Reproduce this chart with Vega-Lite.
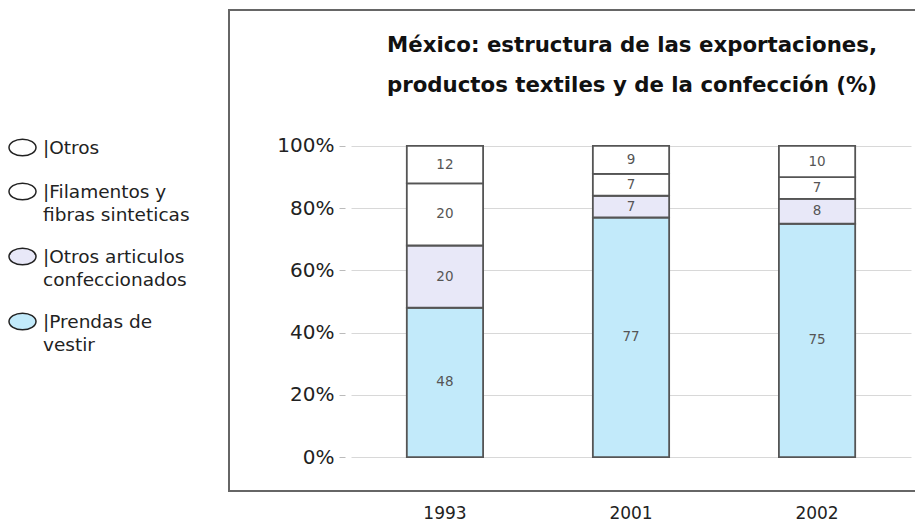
{
  "$schema": "https://vega.github.io/schema/vega-lite/v6.json",
  "autosize": "none",
  "width": 690,
  "height": 481,
  "padding": {"left": 229, "top": 10, "right": 0, "bottom": 33},
  "background": "white",
  "config": {
    "font": "DejaVu Sans",
    "view": {"stroke": "#666", "strokeWidth": 2}
  },
  "title": {
    "text": ["México: estructura de las exportaciones,", "productos textiles y de la confección (%)"],
    "fontSize": 21.3,
    "fontWeight": "bold",
    "color": "#111",
    "lineHeight": 40,
    "anchor": "middle",
    "frame": "group",
    "dx": 58,
    "offset": -86
  },
  "data": {
    "values": [
      {"anio": "1993", "categoria": "Prendas de vestir", "valor": 48},
      {"anio": "1993", "categoria": "Otros articulos confeccionados", "valor": 20},
      {"anio": "1993", "categoria": "Filamentos y fibras sinteticas", "valor": 20},
      {"anio": "1993", "categoria": "Otros", "valor": 12},
      {"anio": "2001", "categoria": "Prendas de vestir", "valor": 77},
      {"anio": "2001", "categoria": "Otros articulos confeccionados", "valor": 7},
      {"anio": "2001", "categoria": "Filamentos y fibras sinteticas", "valor": 7},
      {"anio": "2001", "categoria": "Otros", "valor": 9},
      {"anio": "2002", "categoria": "Prendas de vestir", "valor": 75},
      {"anio": "2002", "categoria": "Otros articulos confeccionados", "valor": 8},
      {"anio": "2002", "categoria": "Filamentos y fibras sinteticas", "valor": 7},
      {"anio": "2002", "categoria": "Otros", "valor": 10}
    ]
  },
  "transform": [
    {"calculate": "indexof(['Prendas de vestir', 'Otros articulos confeccionados', 'Filamentos y fibras sinteticas', 'Otros'], datum.categoria)", "as": "orden"}
  ],
  "encoding": {
    "x": {
      "field": "anio",
      "type": "nominal",
      "scale": {"range": [122, 682], "paddingInner": 0.59, "paddingOuter": 0.3},
      "axis": {
        "title": null,
        "labelAngle": 0,
        "labelFontSize": 17,
        "labelColor": "#222",
        "labelPadding": 14,
        "ticks": false,
        "domain": false
      }
    }
  },
  "layer": [
    {
      "mark": {"type": "bar", "stroke": "#555", "strokeWidth": 1.8},
      "encoding": {
        "y": {
          "field": "valor",
          "type": "quantitative",
          "stack": "zero",
          "scale": {"domain": [-10.9, 143.7], "nice": false, "zero": false},
          "axis": {
            "title": null,
            "values": [0, 20, 40, 60, 80, 100],
            "labelExpr": "datum.value + '%'",
            "labelFontSize": 20,
            "labelColor": "#222",
            "labelPadding": 5,
            "offset": -116,
            "domain": false,
            "tickColor": "#bbb",
            "tickSize": 6,
            "grid": true,
            "gridColor": "#d8d8d8",
            "gridWidth": 1
          }
        },
        "order": {"field": "orden", "type": "quantitative", "sort": "ascending"},
        "color": {
          "field": "categoria",
          "type": "nominal",
          "scale": {
            "domain": ["Otros", "Filamentos y fibras sinteticas", "Otros articulos confeccionados", "Prendas de vestir"],
            "range": ["#ffffff", "#ffffff", "#e8e8f8", "#c2eafa"]
          },
          "legend": {
            "title": null,
            "orient": "none",
            "legendX": -221,
            "legendY": 123,
            "symbolType": "M -1 0 A 1 0.62 0 1 0 1 0 A 1 0.62 0 1 0 -1 0 Z",
            "symbolSize": 729,
            "symbolStrokeColor": "#222",
            "symbolStrokeWidth": 1.5,
            "labelFontSize": 18.5,
            "labelColor": "#222",
            "labelBaseline": "alphabetic",
            "labelOffset": 6,
            "labelLimit": 300,
            "rowPadding": 18,
            "labelExpr": "datum.label == 'Filamentos y fibras sinteticas' ? ['|Filamentos y', '\u00a0\u00a0fibras sinteticas'] : datum.label == 'Otros articulos confeccionados' ? ['|Otros articulos', '\u00a0\u00a0confeccionados'] : datum.label == 'Prendas de vestir' ? ['|Prendas de', '\u00a0\u00a0vestir'] : '|Otros'",
            "encode": {
              "labels": {"update": {"dy": {"value": 6}, "lineHeight": {"value": 23}}}
            }
          }
        }
      }
    },
    {
      "transform": [
        {"stack": "valor", "groupby": ["anio"], "sort": [{"field": "orden", "order": "ascending"}], "as": ["y0", "y1"]},
        {"calculate": "(datum.y0 + datum.y1) / 2", "as": "medio"}
      ],
      "mark": {"type": "text", "fontSize": 13.5, "baseline": "middle", "color": "#555"},
      "encoding": {
        "text": {"field": "valor", "type": "quantitative"},
        "y": {"field": "medio", "type": "quantitative"}
      }
    }
  ]
}
